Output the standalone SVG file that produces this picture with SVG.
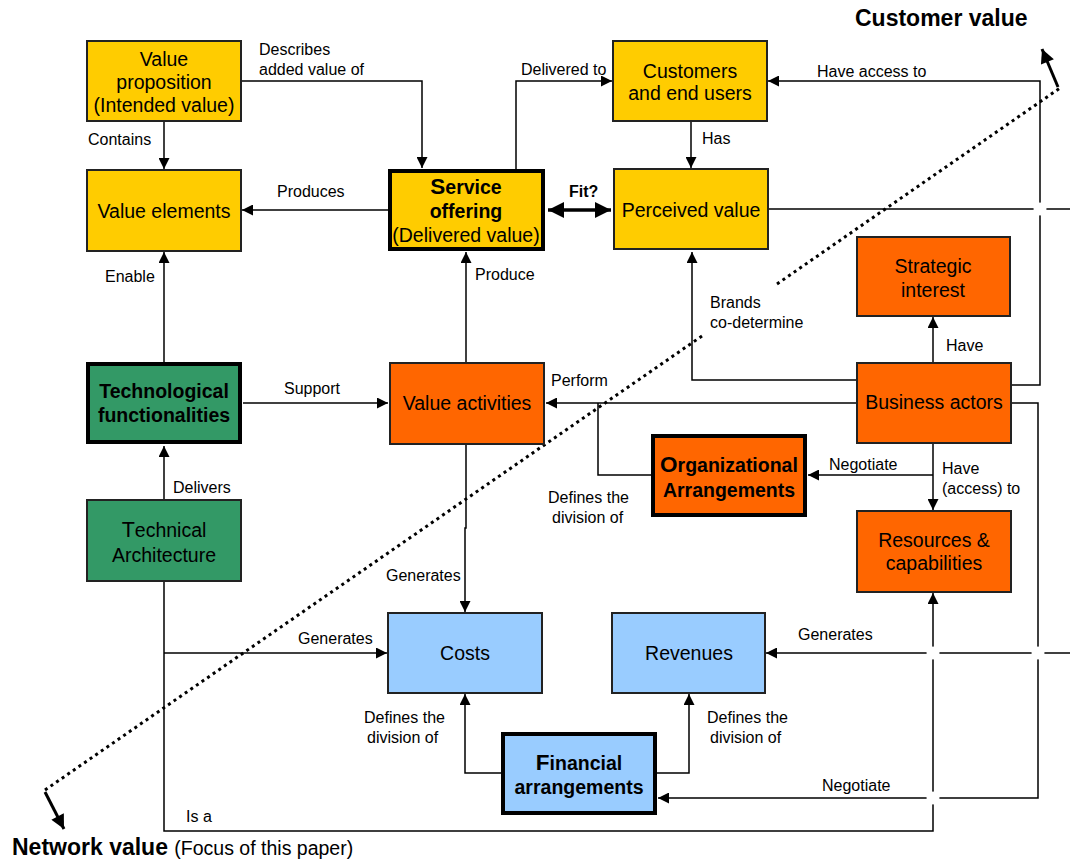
<svg xmlns="http://www.w3.org/2000/svg" width="1070" height="861" viewBox="0 0 1070 861">
<defs>
<style>
text{font-family:"Liberation Sans",Arial,sans-serif;fill:#000}
.bx{stroke:#222;stroke-width:2}
.thick{stroke:#000;stroke-width:4}
.y{fill:#FFCC00}.o{fill:#FF6600}.g{fill:#339966}.b{fill:#99CCFF}
.t{font-size:19.5px;text-anchor:middle}
.tb{font-size:19.5px;text-anchor:middle;font-weight:bold}
.l{font-size:16px}
.c{fill:none;stroke:#000;stroke-width:1.5}
.ca{fill:none;stroke:#000;stroke-width:1.5;marker-end:url(#arr)}
</style>
<marker id="arr" viewBox="0 0 10 10" refX="10" refY="5" markerWidth="12" markerHeight="11" markerUnits="userSpaceOnUse" orient="auto"><path d="M0,0 L10,5 L0,10 z" fill="#000"/></marker>
<marker id="big" viewBox="0 0 10 10" refX="10" refY="5" markerWidth="17" markerHeight="16" markerUnits="userSpaceOnUse" orient="auto-start-reverse"><path d="M0,0 L10,5 L0,10 z" fill="#000"/></marker>
<marker id="dir" viewBox="0 0 10 10" refX="10" refY="5" markerWidth="15" markerHeight="14" markerUnits="userSpaceOnUse" orient="auto"><path d="M0,0 L10,5 L0,10 z" fill="#000"/></marker>
</defs>
<rect width="1070" height="861" fill="#fff"/>

<g id="connectors">
<path class="ca" d="M241 81 H422 V168"/>
<path class="ca" d="M164 121 V169"/>
<path class="ca" d="M388 210 H242"/>
<path class="ca" d="M164 362 V252"/>
<path class="ca" d="M516 169 V81 H612"/>
<path class="ca" d="M691 121 V168"/>
<path class="ca" d="M466 362 V252"/>
<path class="ca" d="M243 403 H388"/>
<path class="ca" d="M164 500 V446"/>
<path class="ca" d="M857 403 H546"/>
<path class="c" d="M651 475 H598 V403"/>
<path class="ca" d="M857 380 H692 V252"/>
<path class="ca" d="M933 362 V317"/>
<path class="ca" d="M933 443 V510"/>
<path class="ca" d="M933 475 H808"/>
<path class="ca" d="M1012 385 H1040 V81 H768"/>
<path class="c" d="M768 209 H1070"/>
<path class="ca" d="M1012 403 H1038 V798 H658"/>
<path class="ca" d="M1070 653 H766"/>
<path class="ca" d="M164 581 V831 H933 V593"/>
<path class="ca" d="M164 653 H387"/>
<path class="ca" d="M466 444 V528 H465 V612"/>
<path class="ca" d="M501 773 H465 V694"/>
<path class="ca" d="M656 773 H689 V694"/>
<path d="M548 210 H611" fill="none" stroke="#000" stroke-width="3.5" marker-start="url(#big)" marker-end="url(#big)"/>
<g fill="#fff">
<circle cx="1040" cy="209" r="6.5"/>
<circle cx="933" cy="653" r="6.5"/>
<circle cx="1038" cy="653" r="6.5"/>
<circle cx="933" cy="798" r="6.5"/>
</g>
<path d="M45 790 L702 336 M777 284 L1060 88" fill="none" stroke="#000" stroke-width="3" stroke-dasharray="3 3.8"/>
<path d="M1058 87 L1042 49" fill="none" stroke="#000" stroke-width="3" marker-end="url(#dir)"/>
<path d="M45 792 L64 829" fill="none" stroke="#000" stroke-width="3" marker-end="url(#dir)"/>
</g>

<g id="value-proposition"><rect class="bx y" x="87" y="41" width="154" height="80"/>
<text class="t" x="164" y="66">Value</text><text class="t" x="164" y="89">proposition</text><text class="t" x="164" y="112">(Intended value)</text></g>
<g id="value-elements"><rect class="bx y" x="87" y="170" width="154" height="81"/>
<text class="t" x="164" y="218">Value elements</text></g>
<g id="service-offering"><rect class="thick y" x="390" y="171" width="153" height="78"/>
<text class="tb" x="466" y="194"><tspan font-size="22.5">S</tspan>ervice</text><text class="tb" x="466" y="218">offering</text><text class="t" x="466" y="242">(Delivered value)</text></g>
<g id="customers"><rect class="bx y" x="613" y="41" width="154" height="80"/>
<text class="t" x="690" y="78">Customers</text><text class="t" x="690" y="100">and end users</text></g>
<g id="perceived-value"><rect class="bx y" x="614" y="169" width="154" height="80"/>
<text class="t" x="691" y="217">Perceived value</text></g>
<g id="strategic-interest"><rect class="bx o" x="857" y="237" width="153" height="79"/>
<text class="t" x="933" y="273">Strategic</text><text class="t" x="933" y="297">interest</text></g>
<g id="technological-functionalities"><rect class="thick g" x="88" y="364" width="152" height="78"/>
<text class="tb" x="164" y="398">Technological</text><text class="tb" x="164" y="422">functionalities</text></g>
<g id="technical-architecture"><rect class="bx g" x="87" y="500" width="154" height="81"/>
<text class="t" x="164" y="537"><tspan font-size="21.5">T</tspan>echnical</text><text class="t" x="164" y="562">Architecture</text></g>
<g id="value-activities"><rect class="bx o" x="390" y="363" width="154" height="81"/>
<text class="t" x="467" y="410">Value activities</text></g>
<g id="organizational-arrangements"><rect class="thick o" x="653" y="436" width="152" height="79"/>
<text class="tb" x="729" y="472"><tspan font-size="22.5">O</tspan>rganizational</text><text class="tb" x="729" y="497">Arrangements</text></g>
<g id="business-actors"><rect class="bx o" x="857" y="363" width="154" height="80"/>
<text class="t" x="934" y="409">Business actors</text></g>
<g id="resources"><rect class="bx o" x="857" y="511" width="154" height="81"/>
<text class="t" x="934" y="547">Resources &amp;</text><text class="t" x="934" y="570">capabilities</text></g>
<g id="costs"><rect class="bx b" x="388" y="613" width="154" height="80"/>
<text class="t" x="465" y="660">Costs</text></g>
<g id="revenues"><rect class="bx b" x="612" y="613" width="153" height="80"/>
<text class="t" x="689" y="660">Revenues</text></g>
<g id="financial-arrangements"><rect class="thick b" x="503" y="734" width="152" height="79"/>
<text class="tb" x="579" y="770"><tspan font-size="22.5">F</tspan>inancial</text><text class="tb" x="579" y="794">arrangements</text></g>

<g id="labels">
<text class="l" x="259" y="55">Describes</text><text class="l" x="259" y="75">added value of</text>
<text class="l" x="88" y="145">Contains</text>
<text class="l" x="277" y="197">Produces</text>
<text class="l" x="105" y="282">Enable</text>
<text class="l" x="521" y="75">Delivered to</text>
<text class="l" x="569" y="197" font-weight="bold">Fit?</text>
<text class="l" x="475" y="280">Produce</text>
<text class="l" x="702" y="144">Has</text>
<text class="l" x="817" y="77">Have access to</text>
<text class="l" x="710" y="308" font-size="15">Brands</text><text class="l" x="710" y="328" font-size="15">co-determine</text>
<text class="l" x="946" y="351">Have</text>
<text class="l" x="284" y="394">Support</text>
<text class="l" x="173" y="493">Delivers</text>
<text class="l" x="551" y="386">Perform</text>
<text class="l" x="548" y="503">Defines the</text><text class="l" x="552" y="523">division of</text>
<text class="l" x="829" y="470">Negotiate</text>
<text class="l" x="942" y="474">Have</text><text class="l" x="942" y="494">(access) to</text>
<text class="l" x="386" y="581">Generates</text>
<text class="l" x="298" y="644">Generates</text>
<text class="l" x="798" y="640">Generates</text>
<text class="l" x="364" y="723">Defines the</text><text class="l" x="367" y="743">division of</text>
<text class="l" x="707" y="723">Defines the</text><text class="l" x="710" y="743">division of</text>
<text class="l" x="822" y="791">Negotiate</text>
<text class="l" x="186" y="822">Is a</text>
<text x="855" y="26" font-size="23" font-weight="bold">Customer value</text>
<text x="12" y="855" font-size="23" font-weight="bold">Network value <tspan font-size="19.5" font-weight="normal">(Focus of this paper)</tspan></text>
</g>
</svg>
